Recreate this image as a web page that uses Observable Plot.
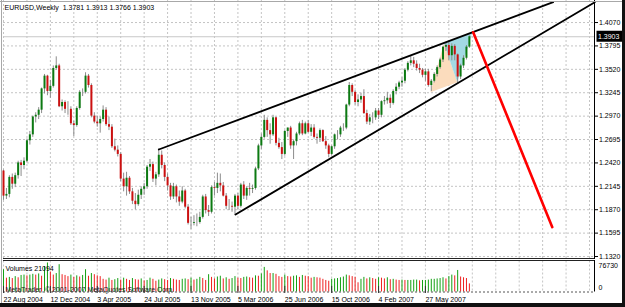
<!DOCTYPE html>
<html><head><meta charset="utf-8">
<script src="https://cdn.jsdelivr.net/npm/d3@7"></script>
<script src="https://cdn.jsdelivr.net/npm/@observablehq/plot@0.6"></script>
<style>
body{margin:0;background:#fff;}
#wrap{position:relative;width:625px;height:307px;overflow:hidden;background:#fff;}
#wrap svg{position:absolute;left:0;overflow:visible;}
.edge{position:absolute;}
</style></head><body><div id="wrap"></div>
<script>
// ---------- data ----------
const symbol = "EURUSD", timeframe = "Weekly";
const firstWeek = "2004-08-22";
const open = [1.2325,1.2030,1.2050,1.2250,1.2170,1.2270,1.2420,1.2390,1.2440,1.2680,
1.2750,1.2960,1.2980,1.3040,1.3290,1.3440,1.3260,1.3320,1.3530,1.3560,
1.3080,1.3130,1.3050,1.3050,1.2880,1.2860,1.3060,1.3250,1.3250,1.3440,
1.3330,1.2970,1.2900,1.2880,1.2930,1.3040,1.2870,1.2840,1.2610,1.2570,
1.2520,1.2230,1.2140,1.2240,1.2080,1.1970,1.1930,1.2040,1.2110,1.2140,
1.2370,1.2400,1.2230,1.2280,1.2510,1.2390,1.2250,1.2150,1.2020,1.2140,
1.2020,1.1960,1.2090,1.1900,1.1710,1.1710,1.1720,1.1720,1.1780,1.2020,
1.1860,1.1840,1.2130,1.2120,1.2180,1.2150,1.2030,1.1910,1.1910,1.1900,
1.2030,1.1910,1.2160,1.2030,1.2120,1.2110,1.2120,1.2350,1.2620,1.2720,
1.2920,1.2800,1.2750,1.2950,1.2650,1.2600,1.2520,1.2790,1.2830,1.2620,
1.2670,1.2760,1.2880,1.2760,1.2880,1.2780,1.2830,1.2720,1.2710,1.2800,
1.2670,1.2620,1.2520,1.2610,1.2750,1.2750,1.2830,1.2830,1.3100,1.3330,
1.3250,1.3130,1.3160,1.3200,1.3000,1.2900,1.2950,1.2950,1.3030,1.2980,
1.3140,1.3150,1.3180,1.3120,1.3260,1.3310,1.3360,1.3380,1.3510,1.3590,
1.3620,1.3580,1.3530,1.3510,1.3450,1.3490,1.3330,1.3380,1.3460,1.3540,
1.3630,1.3780,1.3800,1.3680,1.3790,1.3690,1.3430,1.3560,1.3650,1.3781];
const high = [1.2335,1.2120,1.2270,1.2290,1.2300,1.2440,1.2450,1.2480,1.2700,1.2790,
1.2970,1.3010,1.3070,1.3300,1.3460,1.3450,1.3390,1.3560,1.3667,1.3580,
1.3160,1.3150,1.3140,1.3080,1.2910,1.3080,1.3270,1.3290,1.3480,1.3460,
1.3350,1.3010,1.2970,1.2960,1.3090,1.3070,1.2960,1.2870,1.2700,1.2620,
1.2540,1.2300,1.2310,1.2260,1.2120,1.2060,1.2100,1.2140,1.2180,1.2390,
1.2460,1.2430,1.2310,1.2586,1.2560,1.2420,1.2290,1.2180,1.2180,1.2160,
1.2090,1.2140,1.2110,1.1930,1.1780,1.1800,1.1820,1.1840,1.2040,1.2050,
1.1920,1.2150,1.2190,1.2300,1.2290,1.2190,1.2060,1.1990,1.1960,1.2050,
1.2060,1.2180,1.2200,1.2140,1.2180,1.2160,1.2370,1.2640,1.2760,1.2980,
1.2950,1.2880,1.2980,1.2960,1.2710,1.2660,1.2800,1.2830,1.2850,1.2690,
1.2780,1.2900,1.2920,1.2900,1.2920,1.2870,1.2870,1.2760,1.2820,1.2810,
1.2730,1.2640,1.2620,1.2760,1.2800,1.2850,1.2880,1.3110,1.3365,1.3350,
1.3270,1.3220,1.3240,1.3280,1.3040,1.2990,1.3010,1.3060,1.3060,1.3150,
1.3200,1.3250,1.3220,1.3280,1.3350,1.3380,1.3420,1.3530,1.3610,1.3682,
1.3660,1.3620,1.3580,1.3530,1.3520,1.3520,1.3400,1.3480,1.3560,1.3650,
1.3790,1.3830,1.3852,1.3820,1.3810,1.3700,1.3580,1.3680,1.3800,1.3913];
const low = [1.1980,1.1990,1.2010,1.2110,1.2130,1.2230,1.2260,1.2340,1.2420,1.2630,
1.2720,1.2890,1.2930,1.3000,1.3230,1.3210,1.3180,1.3300,1.3510,1.3070,
1.3030,1.3000,1.2980,1.2860,1.2730,1.2840,1.3040,1.3200,1.3230,1.3300,
1.2950,1.2880,1.2840,1.2770,1.2900,1.2850,1.2800,1.2590,1.2550,1.2490,
1.2200,1.2080,1.2030,1.2050,1.1930,1.1868,1.1910,1.1990,1.2040,1.2110,
1.2320,1.2190,1.2150,1.2250,1.2350,1.2200,1.2090,1.1980,1.1990,1.1950,
1.1910,1.1940,1.1880,1.1690,1.1640,1.1680,1.1670,1.1700,1.1760,1.1820,
1.1790,1.1820,1.2030,1.2060,1.2080,1.2020,1.1870,1.1860,1.1840,1.1800,
1.1870,1.1890,1.1990,1.1980,1.2030,1.2060,1.2100,1.2330,1.2580,1.2700,
1.2720,1.2640,1.2730,1.2620,1.2580,1.2460,1.2500,1.2720,1.2580,1.2460,
1.2620,1.2740,1.2740,1.2750,1.2770,1.2730,1.2700,1.2640,1.2660,1.2660,
1.2580,1.2480,1.2500,1.2580,1.2690,1.2720,1.2790,1.2810,1.3080,1.3200,
1.3100,1.3080,1.3120,1.2990,1.2870,1.2860,1.2880,1.2920,1.2930,1.2950,
1.3100,1.3110,1.3060,1.3100,1.3220,1.3280,1.3310,1.3350,1.3490,1.3560,
1.3540,1.3500,1.3470,1.3420,1.3380,1.3310,1.3260,1.3360,1.3430,1.3520,
1.3600,1.3730,1.3620,1.3620,1.3620,1.3360,1.3400,1.3530,1.3630,1.3766];
const close = [1.2030,1.2050,1.2250,1.2170,1.2270,1.2420,1.2390,1.2440,1.2680,1.2750,
1.2960,1.2980,1.3040,1.3290,1.3440,1.3260,1.3320,1.3530,1.3560,1.3080,
1.3130,1.3050,1.3050,1.2880,1.2860,1.3060,1.3250,1.3250,1.3440,1.3330,
1.2970,1.2900,1.2880,1.2930,1.3040,1.2870,1.2840,1.2610,1.2570,1.2520,
1.2230,1.2140,1.2240,1.2080,1.1970,1.1930,1.2040,1.2110,1.2140,1.2370,
1.2400,1.2230,1.2280,1.2510,1.2390,1.2250,1.2150,1.2020,1.2140,1.2020,
1.1960,1.2090,1.1900,1.1710,1.1710,1.1720,1.1720,1.1780,1.2020,1.1860,
1.1840,1.2130,1.2120,1.2180,1.2150,1.2030,1.1910,1.1910,1.1900,1.2030,
1.1910,1.2160,1.2030,1.2120,1.2110,1.2120,1.2350,1.2620,1.2720,1.2920,
1.2800,1.2750,1.2950,1.2650,1.2600,1.2520,1.2790,1.2830,1.2620,1.2670,
1.2760,1.2880,1.2760,1.2880,1.2780,1.2830,1.2720,1.2710,1.2800,1.2670,
1.2620,1.2520,1.2610,1.2750,1.2750,1.2830,1.2830,1.3100,1.3330,1.3250,
1.3130,1.3160,1.3200,1.3000,1.2900,1.2950,1.2950,1.3030,1.2980,1.3140,
1.3150,1.3180,1.3120,1.3260,1.3310,1.3360,1.3380,1.3510,1.3590,1.3620,
1.3580,1.3530,1.3510,1.3450,1.3490,1.3330,1.3380,1.3460,1.3540,1.3630,
1.3780,1.3800,1.3680,1.3790,1.3690,1.3430,1.3560,1.3650,1.3781,1.3903];
const volume = [58000,36000,38000,35000,40000,37000,43000,44000,42000,44000,
46000,44000,47000,41000,66000,75400,52000,44000,48000,71000,
45000,43000,40000,44000,38000,42000,39000,43000,58000,41000,
48000,45000,42000,40000,33000,31000,36000,30000,32000,35000,
31000,36000,33000,30000,35000,32000,31000,34000,29000,30000,
36000,33000,28000,31000,34000,32000,30000,35000,33000,31000,
30000,33000,34000,32000,36000,31000,33000,38000,35000,30000,
45000,38000,34000,39000,41000,34000,37000,33000,35000,40000,
36000,35000,38000,39000,37000,36000,42000,41000,47000,64000,
55000,48000,48000,46000,40000,38000,44000,40000,39000,41000,
42000,38000,43000,41000,40000,36000,38000,37000,36000,33000,
30000,28000,33000,34000,35000,37000,39000,44000,42000,40000,
38000,24000,33000,38000,34000,37000,35000,33000,37000,36000,
34000,37000,32000,33000,31000,30000,31000,30000,30000,30000,
31000,31000,29000,30000,30000,31000,33000,33000,34000,35000,
37000,34000,40000,44000,42000,56000,39000,37000,35000,21094];
const volumeMax = 76730;
const priceTicks = [1.4070,1.3795,1.3520,1.3245,1.2970,1.2695,1.2420,1.2145,1.1870,1.1595,1.1320];
const bidPrice = 1.3903;
const dateTickWeeks = [0,16,32,48,64,80,96,112,128,144];
const dateTickLabels = ["22 Aug 2004","12 Dec 2004","3 Apr 2005","24 Jul 2005","13 Nov 2005","5 Mar 2006","25 Jun 2006","15 Oct 2006","4 Feb 2007","27 May 2007"];
// drawn objects: [week index, price]
const upperLine = [[53.0,1.2578],[187.6,1.4309]];
const lowerLine = [[79.2,1.1814],[201.8,1.4309]];
const redLine = [[160.3,1.3956],[187.3,1.1665]];
const triangle1 = [[145.7,1.3251],[150.3,1.3827],[154.85,1.3368]];
const triangle2 = [[150.3,1.3827],[154.85,1.3368],[160.0,1.3956]];
const volumeLabel = "Volumes 21094";
const copyright = "MetaTrader, \u00a9 2001-2007 MetaQuotes Software Corp.";

// ---------- layout ----------
const weekMs = 7 * 864e5;
const t0 = Date.parse(firstWeek);
const at = i => new Date(t0 + i * weekMs);
const xDomain = [at(0), at(201.7)];
const gridWeeks = d3.range(0, 201, 8);
const font = "'Liberation Sans', Arial, sans-serif";
const candles = close.map((c, i) => ({date: at(i), open: open[i], high: high[i], low: low[i], close: c}));
const vols = volume.map((v, i) => ({date: at(i), v, up: i === 0 || v >= volume[i - 1]}));
const pts = a => a.map(([w, p]) => ({date: at(w), p}));
const labelOf = new Map(dateTickWeeks.map((w, k) => [+at(w), dateTickLabels[k]]));
const grid = {stroke: "#c4c4c4", strokeDasharray: "2,2"};
const title = `${symbol},${timeframe}\u00a0\u00a0${[open, high, low, close].map(a => a[a.length - 1].toFixed(4)).join(" ")}`;

const main = Plot.plot({
  width: 625, height: 260,
  marginTop: 0, marginBottom: 1, marginLeft: 3, marginRight: 31,
  style: {fontFamily: font, fontSize: "7px", color: "black", background: "transparent"},
  x: {type: "utc", domain: xDomain, axis: null},
  y: {domain: [1.1285, 1.4329], axis: null},
  marks: [
    Plot.ruleY(priceTicks, grid),
    Plot.ruleX(gridWeeks.map(at), grid),
    Plot.ruleY([bidPrice], {stroke: "#c8c8c8"}),
    Plot.line(pts(triangle1), {x: "date", y: "p", fill: "#fbdcbd", stroke: "none", curve: "linear-closed"}),
    Plot.line(pts(triangle2), {x: "date", y: "p", fill: "#a3d9e4", stroke: "none", curve: "linear-closed"}),
    Plot.ruleX(candles, {x: "date", y1: "low", y2: "high", stroke: "#8c8c8c"}),
    Plot.ruleX(candles, {x: "date", y1: "open", y2: "close", strokeWidth: 2,
      stroke: d => d.close >= d.open ? "#0c7a12" : "#cc1010"}),
    Plot.line(pts(upperLine), {x: "date", y: "p", stroke: "black", strokeWidth: 1.8}),
    Plot.line(pts(lowerLine), {x: "date", y: "p", stroke: "black", strokeWidth: 1.8}),
    Plot.line(pts(redLine), {x: "date", y: "p", stroke: "#ff0000", strokeWidth: 2.6}),
    Plot.ruleX([xDomain[1]], {stroke: "black"}),
    Plot.ruleY([1.1285], {stroke: "#222", dy: -1}),
    Plot.axisY(priceTicks, {anchor: "right", tickSize: 3, tickPadding: 1.5, tickFormat: d => d.toFixed(4), fontSize: 7}),
    Plot.text([title], {frameAnchor: "top-left", dx: 1, dy: 7, textAnchor: "start", lineAnchor: "middle", fontSize: 7, fill: "black"})
  ]
});
main.style.top = "0px";

// bid label box
{
  const y = main.scale("y").apply(bidPrice);
  const g = d3.select(main).append("g").attr("text-anchor", "start");
  g.append("rect").attr("x", 596.5).attr("y", y - 5.5).attr("width", 27).attr("height", 11).attr("fill", "black");
  g.append("text").attr("x", 598).attr("y", y).attr("dy", "0.35em").attr("fill", "white")
    .attr("text-anchor", "start").attr("font-family", font).attr("font-size", 7).text(bidPrice.toFixed(4));
}

const vol = Plot.plot({
  width: 625, height: 47,
  marginTop: 2, marginBottom: 15.5, marginLeft: 3, marginRight: 31,
  style: {fontFamily: font, fontSize: "7px", color: "black", background: "transparent"},
  x: {type: "utc", domain: xDomain, axis: null},
  y: {domain: [0, volumeMax], axis: null},
  marks: [
    Plot.ruleX(gridWeeks.map(at), {...grid, insetTop: -1.5}),
    Plot.ruleX(vols, {x: "date", y1: 0, y2: "v", stroke: d => d.up ? "#13a013" : "#ee2020"}),
    Plot.ruleY([0], {stroke: "#555", strokeDasharray: "2,2"}),
    Plot.ruleY([volumeMax], {stroke: "#222", dy: -2}),
    Plot.ruleX([xDomain[1]], {stroke: "black", insetTop: -2}),
    Plot.ruleX(dateTickWeeks.map(at), {stroke: "#333", insetTop: 24, insetBottom: -1.5}),
    Plot.text([volumeLabel], {frameAnchor: "top-left", dx: 2, dy: 6, textAnchor: "start", lineAnchor: "middle", fontSize: 7, fill: "black"}),
    Plot.text([copyright], {frameAnchor: "bottom-left", dx: 2, dy: -2, textAnchor: "start", lineAnchor: "middle", fontSize: 7, fill: "#222"}),
    Plot.text([volumeMax], {y: d => d, text: d => String(d), frameAnchor: "right", dx: 4, dy: 3, textAnchor: "start", lineAnchor: "middle", fontSize: 7}),
    Plot.text([0], {y: d => d, text: d => String(d), frameAnchor: "right", dx: 4, dy: -4.5, textAnchor: "start", lineAnchor: "middle", fontSize: 7}),
    Plot.axisX(dateTickWeeks.map(at), {anchor: "bottom", tickSize: 0, tickPadding: 5, textAnchor: "start",
      tickFormat: d => labelOf.get(+d), fontSize: 7})
  ]
});
vol.style.top = "260px";

const wrap = document.getElementById("wrap");
wrap.append(main, vol);
for (const [l, t, w, h, c] of [[0, 1, 625, 1, "#a8a8a8"], [1, 0, 1, 307, "#a8a8a8"], [0, 303, 625, 4, "#111"], [622, 0, 3, 307, "#111"]]) {
  const e = document.createElement("div");
  e.className = "edge";
  Object.assign(e.style, {left: l + "px", top: t + "px", width: w + "px", height: h + "px", background: c});
  wrap.append(e);
}
</script></body></html>
